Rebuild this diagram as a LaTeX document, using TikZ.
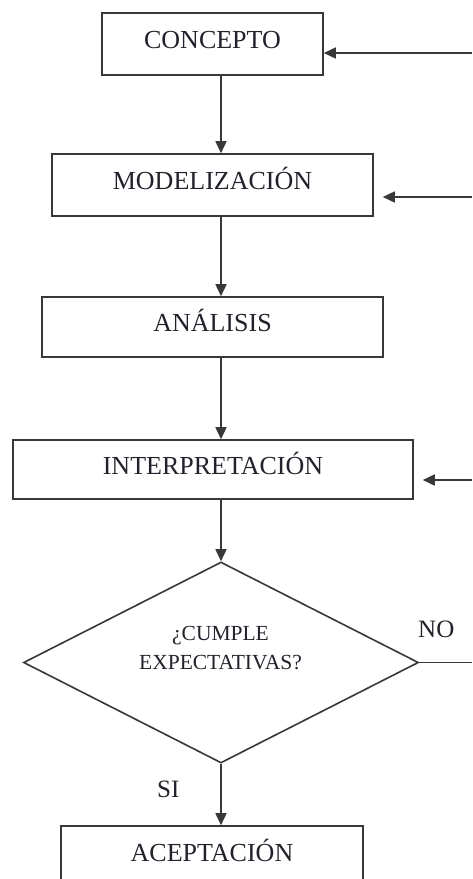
\documentclass[tikz,border=0pt]{standalone}
\usepackage{fontspec}
\setmainfont{Liberation Serif}
\usetikzlibrary{arrows.meta,shapes.geometric}
\definecolor{ink}{HTML}{22222C}
\definecolor{edge}{HTML}{383838}
\tikzset{
  flowbox/.style={draw=edge, line width=1.6pt, fill=white, text=ink,
    font=\fontsize{26}{30}\selectfont, inner sep=0pt,
    text height=18pt, text depth=9pt},
  decbox/.style={draw=edge, line width=1.6pt, diamond, aspect=2, inner sep=0pt,
    minimum width=395pt, minimum height=201pt},
  dectxt/.style={text=ink, align=center, font=\fontsize{21.5}{29}\selectfont, inner sep=0pt},
  lbl/.style={text=ink, font=\fontsize{25}{30}\selectfont, inner sep=0pt},
  conn/.style={draw=edge, line width=1.6pt, -{Triangle[length=12pt,width=11pt]}},
  plain/.style={draw=edge, line width=1.6pt}
}
\begin{document}
\begin{tikzpicture}[x=1pt,y=-1pt]
\useasboundingbox (0,0) rectangle (472,879);
\clip (0,0) rectangle (472,879);
\fill[white] (0,0) rectangle (472,879);
\coordinate (spine) at (221,0);
\node[flowbox, minimum width=221pt, minimum height=62pt] (concepto) at (212.5,44) {CONCEPTO};
\node[flowbox, minimum width=321pt, minimum height=62pt] (model) at (212.5,185) {MODELIZACIÓN};
\node[flowbox, minimum width=341pt, minimum height=60pt] (analisis) at (212.5,327) {ANÁLISIS};
\node[flowbox, minimum width=400pt, minimum height=59pt] (interp) at (213,469.5) {INTERPRETACIÓN};
\node[decbox] (dec) at (221,662.5) {};
\node[dectxt] (dectext) at (220.5,648) {¿CUMPLE\\EXPECTATIVAS?};
\node[flowbox, minimum width=302pt, minimum height=62pt] (acept) at (212,857) {ACEPTACIÓN};
\node[lbl, anchor=base west] (no) at (418,637) {NO};
\node[lbl, anchor=base west] (si) at (157,797) {SI};
% vertical flow
\draw[conn] (concepto.south -| spine) -- (model.north -| spine);
\draw[conn] (model.south -| spine) -- (analisis.north -| spine);
\draw[conn] (analisis.south -| spine) -- (interp.north -| spine);
\draw[conn] (interp.south -| spine) -- (dec.north);
\draw[conn] (dec.south) -- (acept.north -| dec.south);
% feedback
\coordinate (r1) at (472,53);
\coordinate (r2) at (472,197);
\coordinate (r3) at (472,480);
\coordinate (r4) at (472,662.5);
\draw[conn] (r1) -- (r1 -| concepto.east);
\draw[conn, shorten >=9pt] (r2) -- (r2 -| model.east);
\draw[conn, shorten >=9pt] (r3) -- (r3 -| interp.east);
\draw[plain] (dec.east) -- (r4);
\end{tikzpicture}
\end{document}
